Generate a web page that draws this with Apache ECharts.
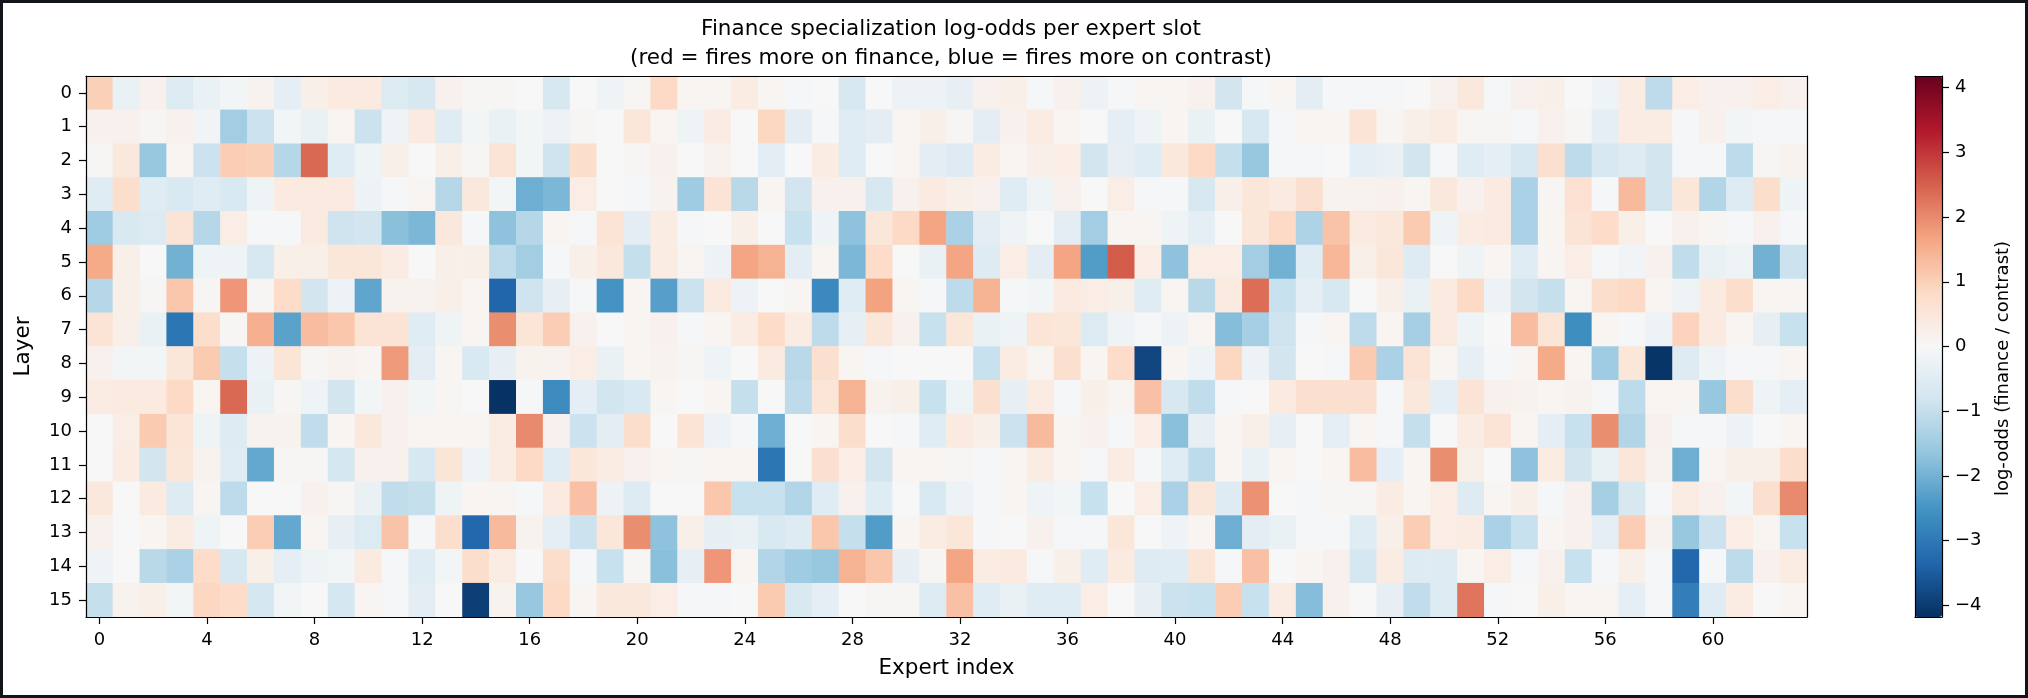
<!DOCTYPE html>
<html>
<head>
<meta charset="utf-8">
<title>Finance specialization log-odds</title>
<script src="https://cdn.jsdelivr.net/npm/echarts@6/dist/echarts.min.js"></script>
<style>
  html, body { margin: 0; padding: 0; background: #fff; }
  #chart { position: absolute; left: 0; top: 0; width: 2028px; height: 698px; }
  #frame { position: absolute; left: 0; top: 0; width: 2028px; height: 698px;
           box-sizing: border-box; border: 3px solid #111418; pointer-events: none; }
</style>
</head>
<body>
<div id="chart"></div>
<div id="frame"></div>
<script>
// log-odds per layer (rows) and expert slot (columns 0..63)
const L0 = [1.0, -0.3, 0.2, -0.6, -0.3, -0.1, 0.15, -0.4, 0.25, 0.4, 0.4, -0.6, -0.7, 0.2, 0.05, 0.05,
  0.0, -0.7, 0.0, -0.2, 0.05, 0.85, 0.1, 0.1, 0.35, 0.1, -0.05, 0.0, -0.7, 0.0, -0.25, -0.25,
  -0.35, 0.2, 0.25, -0.05, 0.2, -0.25, -0.05, 0.1, 0.1, 0.2, -0.8, -0.05, 0.1, -0.45, -0.05, -0.05,
  -0.05, 0.0, 0.2, 0.45, -0.05, 0.2, 0.25, 0.0, -0.2, 0.35, -1.1, 0.3, 0.2, 0.2, 0.3, 0.2]
const L1 = [0.2, 0.2, 0.05, 0.2, -0.15, -1.45, -0.9, -0.1, -0.3, 0.1, -0.9, -0.2, 0.4, -0.5, -0.1, -0.3,
  -0.1, -0.25, 0.05, 0.0, 0.5, 0.1, -0.2, 0.35, 0.0, 0.9, -0.45, -0.05, -0.5, -0.45, 0.1, 0.25,
  0.05, -0.45, 0.2, 0.35, 0.1, 0.0, -0.4, -0.2, 0.1, -0.3, 0.0, -0.7, -0.05, 0.1, 0.1, 0.6,
  0.1, 0.25, 0.35, 0.1, 0.05, -0.05, 0.2, 0.05, -0.4, 0.35, 0.35, -0.05, 0.2, -0.1, -0.05, -0.05]
const L2 = [0.05, 0.45, -1.6, 0.1, -0.9, 1.05, 1.0, -1.2, 2.4, -0.5, -0.2, 0.25, 0.0, 0.25, 0.05, 0.6,
  -0.1, -0.85, 0.75, 0.0, 0.05, 0.2, 0.0, 0.15, 0.0, -0.45, 0.0, 0.35, -0.5, 0.0, 0.1, -0.45,
  -0.55, 0.35, 0.1, 0.25, 0.3, -0.8, -0.35, -0.5, 0.45, 0.85, -1.0, -1.6, -0.05, -0.05, 0.0, -0.4,
  -0.3, -0.8, -0.05, -0.5, -0.4, -0.7, 0.7, -1.1, -0.7, -0.55, -0.8, -0.05, -0.05, -1.1, 0.05, 0.15]
const L3 = [-0.5, 0.75, -0.5, -0.65, -0.5, -0.65, -0.2, 0.4, 0.4, 0.4, -0.25, -0.05, 0.1, -1.2, 0.45, -0.1,
  -2.05, -1.9, 0.3, 0.0, -0.05, 0.15, -1.5, 0.6, -1.15, 0.1, -0.8, 0.2, 0.2, -0.7, 0.2, 0.4,
  0.25, 0.2, -0.5, -0.2, 0.2, 0.0, 0.3, -0.05, -0.05, -0.7, 0.25, 0.5, 0.4, 0.7, 0.15, 0.15,
  0.2, 0.1, 0.45, 0.2, 0.4, -1.35, 0.05, 0.65, -0.05, 1.35, -0.8, 0.5, -1.25, -0.55, 0.75, -0.2]
const L4 = [-1.5, -0.65, -0.6, 0.6, -1.2, 0.3, -0.05, -0.05, 0.4, -0.85, -0.8, -1.75, -1.9, 0.45, -0.05, -1.7,
  -1.2, 0.1, -0.05, 0.6, -0.45, 0.35, -0.05, 0.0, 0.25, 0.0, -0.95, -0.2, -1.7, 0.5, 0.85, 1.65,
  -1.35, -0.45, -0.2, 0.0, -0.45, -1.45, 0.1, 0.1, -0.2, -0.4, 0.0, 0.5, 0.85, -1.3, 1.2, 0.4,
  0.45, 1.1, -0.2, 0.35, 0.4, -1.35, 0.1, 0.6, 0.8, 0.25, 0.0, 0.2, 0.1, -0.05, 0.2, -0.05]
const L5 = [1.6, 0.25, 0.0, -2.0, -0.2, -0.2, -0.7, 0.25, 0.25, 0.5, 0.5, 0.35, 0.0, 0.25, 0.25, -1.1,
  -1.45, -0.05, 0.25, 0.45, -1.0, 0.35, 0.1, -0.25, 1.65, 1.45, -0.45, 0.1, -1.9, 0.8, 0.0, -0.3,
  1.65, -0.55, 0.3, -0.45, 1.65, -2.35, 2.55, 0.3, -1.7, 0.3, 0.3, -1.45, -2.0, -0.5, 1.4, 0.25,
  0.5, -0.55, 0.0, -0.2, 0.1, -0.5, 0.1, 0.3, -0.05, -0.15, 0.2, -1.05, -0.3, -0.2, -2.0, -0.9]
const L6 = [-1.2, 0.25, 0.05, 1.15, 0.05, 1.85, 0.05, 0.8, -0.8, -0.25, -2.2, 0.15, 0.15, 0.25, 0.1, -3.35,
  -0.85, -0.35, -0.05, -2.5, 0.1, -2.3, -0.9, 0.4, -0.25, 0.0, 0.1, -2.7, -0.5, 1.7, 0.1, -0.05,
  -1.1, 1.45, -0.05, -0.1, 0.4, 0.3, 0.25, -0.5, 0.1, -1.15, 0.4, 2.35, -0.95, -0.4, -0.7, 0.0,
  0.25, -0.3, 0.4, 0.85, -0.25, -0.8, -1.0, 0.1, 0.75, 0.85, 0.1, -0.2, 0.4, 0.75, 0.1, 0.1]
const L7 = [0.6, 0.25, -0.3, -3.05, 0.75, 0.05, 1.5, -2.25, 1.3, 1.15, 0.6, 0.6, -0.5, -0.2, 0.1, 1.95,
  0.55, 1.05, 0.2, 0.0, 0.1, 0.2, -0.05, 0.1, 0.35, 0.8, 0.35, -1.1, -0.35, 0.5, 0.2, -0.95,
  0.5, -0.3, -0.2, 0.55, 0.5, -0.6, -0.2, -0.05, -0.25, 0.1, -1.8, -1.4, -0.85, -0.05, 0.1, -1.1,
  0.1, -1.4, 0.4, -0.2, 0.0, 1.3, 0.55, -2.6, 0.1, -0.05, -0.25, 0.95, 0.4, 0.1, -0.35, -0.95]
const L8 = [0.2, -0.1, -0.1, 0.5, 1.1, -1.0, -0.25, 0.55, 0.05, 0.15, 0.1, 1.8, -0.45, 0.1, -0.65, -0.35,
  0.15, 0.15, 0.3, -0.3, 0.1, 0.15, 0.05, -0.2, 0.0, 0.4, -1.15, 0.7, 0.1, -0.05, 0.0, 0.0,
  0.0, -0.95, 0.35, 0.1, 0.7, 0.1, 0.8, -3.85, 0.1, -0.2, 0.9, -0.25, -0.8, 0.0, -0.05, 1.1,
  -1.35, 0.6, 0.1, -0.35, -0.05, 0.1, 1.6, 0.1, -1.5, 0.5, -4.1, -0.55, -0.2, -0.05, -0.05, 0.1]
const L9 = [0.35, 0.4, 0.4, 0.85, 0.1, 2.4, -0.3, 0.05, -0.2, -0.8, -0.1, 0.2, -0.1, 0.1, 0.0, -4.15,
  -0.05, -2.65, -0.4, -0.8, -0.65, 0.1, 0.0, 0.1, -1.0, 0.0, -1.1, 0.55, 1.45, 0.15, 0.25, -0.95,
  -0.2, 0.7, -0.35, 0.35, -0.05, 0.25, 0.1, 1.25, -0.7, -1.05, -0.05, 0.0, 0.4, 0.7, 0.7, 0.7,
  -0.05, 0.45, -0.4, 0.6, 0.2, 0.15, 0.1, 0.15, -0.05, -1.1, 0.1, 0.1, -1.6, 0.75, -0.2, -0.4]
const L10 = [0.0, 0.3, 1.1, 0.55, -0.2, -0.55, 0.15, 0.15, -1.05, 0.1, 0.45, 0.2, 0.1, 0.1, 0.1, 0.35,
  2.0, 0.2, -0.9, -0.45, 0.75, 0.0, 0.6, -0.25, -0.05, -2.05, 0.0, 0.1, 0.75, 0.0, -0.05, -0.5,
  0.4, 0.25, -0.9, 1.35, 0.1, 0.2, -0.05, 0.3, -1.75, -0.35, 0.1, 0.25, -0.35, 0.0, -0.4, 0.1,
  -0.05, -1.0, 0.0, 0.35, 0.6, 0.1, -0.4, -0.95, 1.95, -1.25, 0.2, -0.05, -0.05, -0.25, 0.0, 0.1]
const L11 = [0.0, 0.35, -0.8, 0.5, 0.15, -0.5, -2.15, 0.05, 0.05, -0.75, 0.2, 0.2, -0.7, 0.55, -0.2, 0.35,
  0.85, -0.5, 0.5, 0.35, 0.2, 0.1, 0.05, 0.1, 0.1, -3.05, 0.0, 0.7, 0.3, -0.8, 0.1, 0.1,
  0.05, -0.05, 0.1, 0.35, 0.1, -0.05, 0.35, -0.05, -0.5, -1.1, 0.1, -0.3, 0.1, 0.0, 0.1, 1.3,
  -0.4, 0.1, 1.95, 0.25, 0.0, -1.7, 0.35, -0.8, -0.3, 0.5, 0.15, -2.05, 0.1, 0.25, 0.25, 0.75]
const L12 = [0.45, 0.0, 0.4, -0.55, 0.1, -1.1, 0.0, 0.0, 0.2, 0.05, -0.3, -1.05, -1.0, -0.2, 0.1, 0.1,
  -0.05, 0.4, 1.25, -0.25, -0.55, 0.0, 0.0, 1.15, -0.95, -0.95, -1.25, -0.5, 0.2, -0.5, 0.0, -0.65,
  -0.25, -0.05, 0.1, -0.2, -0.1, -0.95, 0.0, 0.3, -1.35, 0.5, -0.55, 1.9, 0.0, -0.05, 0.05, 0.05,
  0.35, 0.1, 0.3, -0.55, 0.1, 0.25, -0.05, 0.2, -1.4, -0.7, -0.05, 0.35, 0.2, -0.1, 0.7, 2.0]
const L13 = [0.2, 0.0, 0.1, 0.35, -0.2, 0.0, 1.05, -2.15, 0.1, -0.35, -0.6, 1.2, -0.05, 0.75, -3.3, 1.35,
  0.15, -0.4, -0.9, 0.5, 1.95, -1.7, 0.25, -0.35, -0.3, -0.65, -0.55, 1.15, -1.0, -2.35, 0.1, 0.35,
  0.5, -0.05, 0.0, 0.2, -0.05, -0.05, 0.5, 0.0, -0.2, 0.1, -2.05, -0.45, -0.3, -0.05, -0.05, -0.5,
  0.25, 1.05, 0.3, 0.35, -1.35, -0.95, 0.1, 0.2, -0.4, 1.05, 0.15, -1.6, -0.9, 0.3, 0.1, -0.95]
const L14 = [-0.2, 0.0, -1.15, -1.35, 0.8, -0.7, 0.25, -0.4, -0.2, -0.1, 0.4, -0.05, -0.5, -0.1, 0.75, 0.35,
  0.0, 0.75, -0.05, -0.95, 0.05, -1.75, -0.35, 1.85, 0.1, -1.25, -1.5, -1.6, 1.45, 1.15, -0.35, 0.05,
  1.65, 0.35, 0.4, -0.05, 0.25, -0.5, 0.4, -0.55, -0.5, 0.55, -0.05, 1.25, 0.0, 0.1, 0.2, -0.75,
  0.35, -0.55, -0.55, 0.1, 0.3, -0.05, 0.2, -0.95, -0.05, 0.25, -0.05, -3.3, -0.05, -1.1, 0.2, 0.35]
const L15 = [-1.0, 0.15, 0.25, -0.1, 0.9, 0.8, -0.75, -0.1, 0.0, -0.75, 0.1, -0.05, -0.45, 0.0, -3.95, 0.15,
  -1.6, 0.85, 0.1, 0.45, 0.45, 0.3, -0.05, -0.05, 0.0, 1.1, -0.65, -0.4, 0.0, 0.05, 0.05, -0.6,
  1.25, -0.5, -0.3, -0.5, -0.5, 0.3, 0.0, -0.35, -0.9, -0.95, 1.05, -0.95, 0.35, -1.8, 0.2, 0.0,
  -0.35, -1.05, -0.6, 2.25, -0.05, 0.0, 0.25, 0.1, 0.1, -0.4, -0.05, -2.9, -0.5, 0.35, 0.0, 0.1]

const layers = [L0, L1, L2, L3, L4, L5, L6, L7, L8, L9, L10, L11, L12, L13, L14, L15]
const expertLabels = Array.from({ length: 64 }, (_, i) => String(i))
const layerLabels = Array.from({ length: 16 }, (_, i) => String(i))
const colorbarTicks = [-4, -3, -2, -1, 0, 1, 2, 3, 4]
const vLimit = 4.18

// RdBu reversed
const rdbuR = ['#053061', '#2166ac', '#4393c3', '#92c5de', '#d1e5f0', '#f7f7f7',
  '#fddbc7', '#f4a582', '#d6604d', '#b2182b', '#67001f']

function drawChart () {
  const myChart = echarts.init(document.getElementById('chart'), null, { renderer: 'canvas' })
  const font = 'DejaVu Sans'
  const cells = []
  layers.forEach((row, y) => {
    row.forEach((v, x) => {
      cells.push([x, y, v])
    })
  })
  const edge = { show: true, onZero: false, lineStyle: { color: '#000', width: 1.2 } }
  const hidden = { show: false }
  const minus = (v) => String(v).replace('-', '\u2212')

  const option = {
    backgroundColor: '#fff',
    animation: false,
    title: {
      text: 'Finance specialization log-odds per expert slot\n(red = fires more on finance, blue = fires more on contrast)',
      left: 946,
      top: 10,
      textAlign: 'center',
      textStyle: { fontFamily: font, fontSize: 21.5, fontWeight: 'normal', color: '#000', lineHeight: 29 }
    },
    grid: [
      { left: 86, top: 76, width: 1721, height: 541 },
      { left: 1915, top: 76, width: 27, height: 541 }
    ],
    xAxis: [
      {
        type: 'category', gridIndex: 0, data: expertLabels, position: 'bottom', z: 10,
        axisLine: edge,
        axisTick: { show: true, interval: 3, alignWithLabel: true, length: 7, lineStyle: { color: '#000', width: 1.2 } },
        axisLabel: { interval: 3, margin: 14, fontFamily: font, fontSize: 18, color: '#000' },
        splitLine: hidden,
        name: 'Expert index', nameLocation: 'middle', nameGap: 40,
        nameTextStyle: { fontFamily: font, fontSize: 21.5, color: '#000' }
      },
      {
        type: 'category', gridIndex: 0, data: expertLabels, position: 'top', z: 10,
        axisLine: edge, axisTick: hidden, axisLabel: hidden, splitLine: hidden
      },
      {
        type: 'value', gridIndex: 1, min: 0, max: 1, position: 'bottom', z: 10,
        axisLine: edge, axisTick: hidden, axisLabel: hidden, splitLine: hidden
      },
      {
        type: 'value', gridIndex: 1, min: 0, max: 1, position: 'top', z: 10,
        axisLine: edge, axisTick: hidden, axisLabel: hidden, splitLine: hidden
      }
    ],
    yAxis: [
      {
        type: 'category', gridIndex: 0, data: layerLabels, inverse: true, position: 'left', z: 10,
        axisLine: edge,
        axisTick: { show: true, alignWithLabel: true, length: 7, lineStyle: { color: '#000', width: 1.2 } },
        axisLabel: { margin: 14, fontFamily: font, fontSize: 18, color: '#000' },
        splitLine: hidden,
        name: 'Layer', nameLocation: 'middle', nameGap: 52, nameRotate: 90,
        nameTextStyle: { fontFamily: font, fontSize: 21.5, color: '#000' }
      },
      {
        type: 'category', gridIndex: 0, data: layerLabels, inverse: true, position: 'right', z: 10,
        axisLine: edge, axisTick: hidden, axisLabel: hidden, splitLine: hidden
      },
      {
        type: 'value', gridIndex: 1, min: -vLimit, max: vLimit, position: 'left', z: 10,
        axisLine: edge, axisTick: hidden, axisLabel: hidden, splitLine: hidden
      },
      {
        type: 'value', gridIndex: 1, min: -vLimit, max: vLimit, position: 'right', z: 10,
        axisLine: edge,
        axisTick: { show: true, length: 7, customValues: colorbarTicks, lineStyle: { color: '#000', width: 1.2 } },
        axisLabel: { margin: 13, customValues: colorbarTicks, formatter: minus, fontFamily: font, fontSize: 18, color: '#000' },
        splitLine: hidden,
        name: 'log-odds (finance / contrast)', nameLocation: 'middle', nameGap: 52, nameRotate: 90,
        nameTextStyle: { fontFamily: font, fontSize: 18, color: '#000', padding: [0, 44, 0, 0] }
      }
    ],
    visualMap: {
      type: 'continuous',
      seriesIndex: 0,
      min: -vLimit,
      max: vLimit,
      calculable: false,
      orient: 'vertical',
      left: 1915,
      top: 76,
      itemWidth: 27,
      itemHeight: 541,
      padding: 0,
      text: null,
      showLabel: false,
      inRange: { color: rdbuR }
    },
    series: [{
      type: 'heatmap',
      xAxisIndex: 0,
      yAxisIndex: 0,
      data: cells,
      itemStyle: { borderWidth: 0 },
      emphasis: { disabled: true }
    }]
  }
  myChart.setOption(option)
}

drawChart()
</script>
</body>
</html>
